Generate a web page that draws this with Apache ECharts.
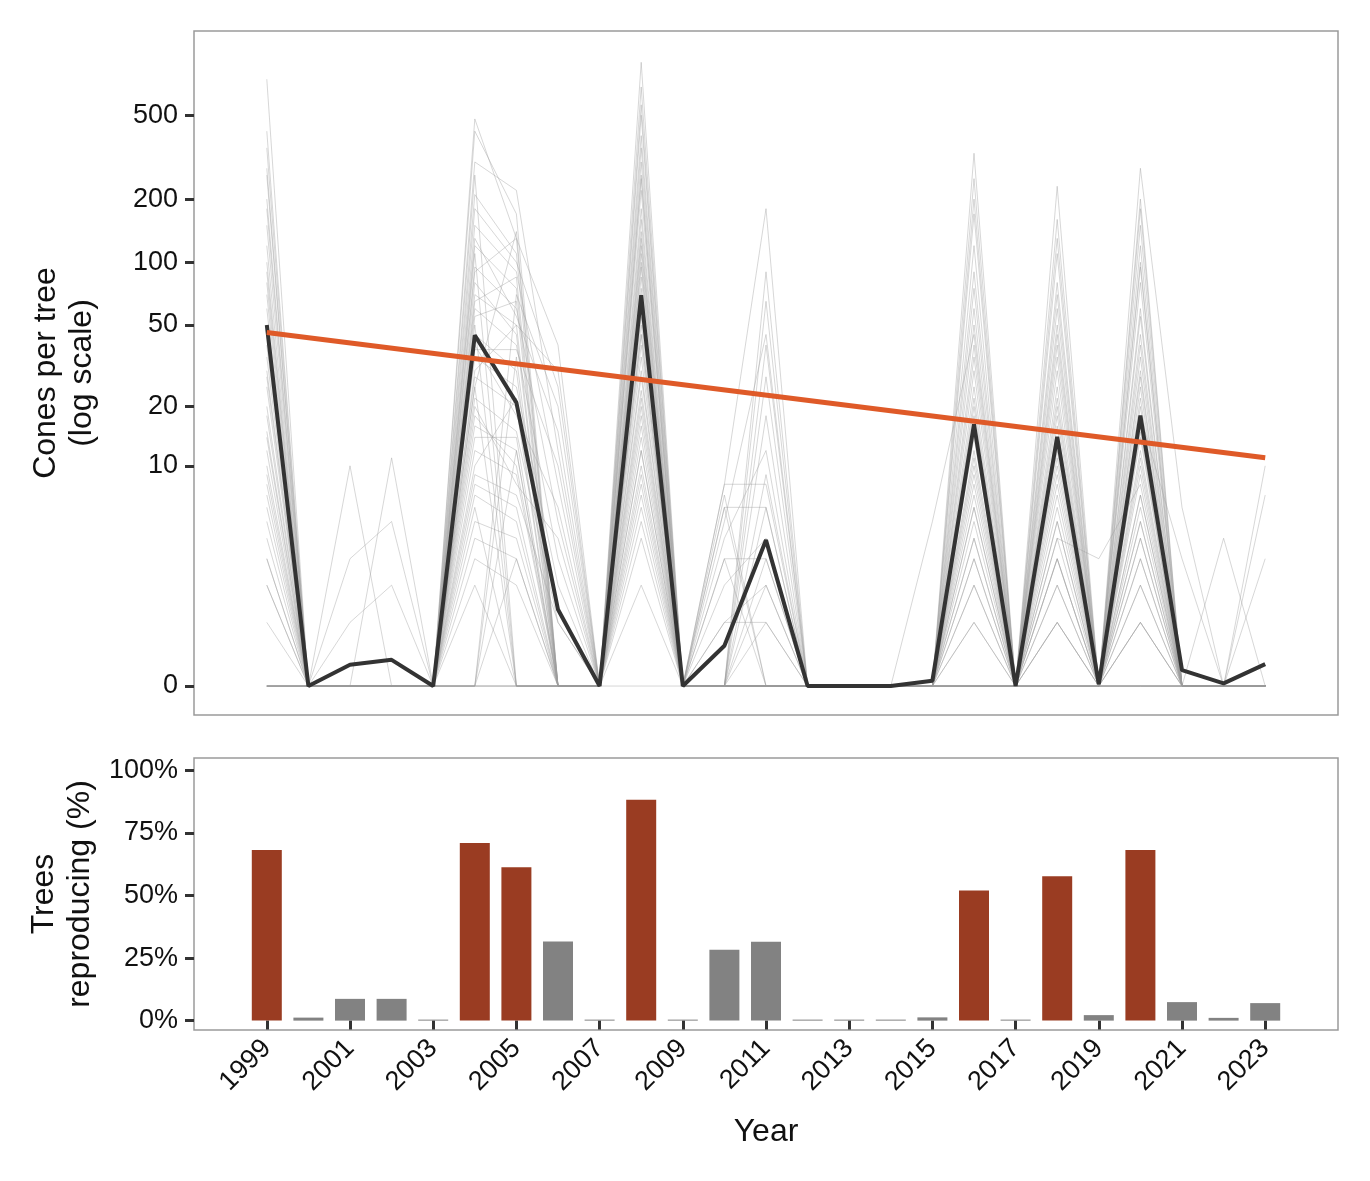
<!DOCTYPE html>
<html>
<head>
<meta charset="utf-8">
<script src="https://cdn.jsdelivr.net/npm/echarts@6/dist/echarts.min.js"></script>
<style>
html, body { margin: 0; padding: 0; background: #fff; }
#chart { width: 1370px; height: 1181px; }
</style>
</head>
<body>
<div id="chart"></div>
<script>
var years = [1999,2000,2001,2002,2003,2004,2005,2006,2007,2008,2009,2010,2011,2012,2013,2014,2015,2016,2017,2018,2019,2020,2021,2022,2023];
var yearTicks = [1999,2001,2003,2005,2007,2009,2011,2013,2015,2017,2019,2021,2023];
var coneTicks = [0,10,20,50,100,200,500];
var pctTicks = [0,25,50,75,100];

// mean cones per tree (black line)
var meanCones = [50,0,0.26,0.33,0,44.6,20.9,1.3,0,69.5,0,0.55,3.9,0,0,0,0.06,16.3,0,14.1,0.02,18,0.19,0.03,0.27];
// fitted trend (orange), start and end
var trendYears = [1999, 2023];
var trendCones = [46, 11];
// % of trees with cones
var pctReproducing = [68.2,1.2,8.7,8.7,0.4,71,61.3,31.6,0.4,88.3,0.4,28.3,31.5,0.4,0.4,0.4,1.3,52,0.4,57.7,2.2,68.2,7.4,1.1,7];

// individual trees (grey lines)
var trees = [
  [740,0,0,0,0,480,130,40,0,890,0,8,180,0,0,0,0,330,0,230,0,280,6,0,10],
  [420,0,0,0,0,300,220,12,0,560,0,0,65,0,0,0,0,170,0,110,0,150,0,0,0],
  [260,0,10,0,0,210,110,0,0,400,0,5,45,0,0,0,0,90,0,60,0,120,0,0,0],
  [180,0,0,11,0,150,90,8,0,300,0,0,28,0,0,0,0,60,0,45,0,80,0,0,7],
  [120,0,0,0,0,120,75,0,0,220,0,7,0,0,0,0,5,45,0,30,0,55,0,0,0],
  [90,0,0,0,0,95,60,5,0,160,0,0,18,0,0,0,0,30,0,25,0,40,0,4,0],
  [70,0,3,5,0,80,45,0,0,120,0,4,12,0,0,0,0,22,0,18,0,30,0,0,0],
  [50,0,0,0,0,60,40,3,0,95,0,0,9,0,0,0,0,15,0,14,0,22,0,0,0],
  [35,0,0,0,0,45,30,0,0,75,0,3,0,0,0,0,0,12,0,10,0,18,3,0,0],
  [25,0,0,0,0,35,25,2,0,55,0,0,6,0,0,0,0,9,0,8,0,14,0,0,0],
  [18,0,0,0,0,28,20,0,0,40,0,2,4,0,0,0,0,7,0,6,0,10,0,0,3],
  [12,0,0,0,0,22,15,1,0,30,0,0,3,0,0,0,0,5,0,4,3,8,0,0,0],
  [9,0,0,0,0,16,12,0,0,24,0,1,2,0,0,0,0,3,0,3,0,6,0,0,0],
  [6,0,0,0,0,12,9,0,0,18,0,0,1,0,0,0,0,2,0,2,0,4,0,0,0],
  [4,0,0,0,0,9,7,1,0,14,0,0,0,0,0,0,0,1,0,1,0,3,0,0,0],
  [3,0,0,0,0,7,5,0,0,10,0,0,0,0,0,0,0,0,0,1,0,2,0,0,0],
  [2,0,0,0,0,5,4,0,0,8,0,0,0,0,0,0,0,0,0,0,0,1,0,0,0],
  [1,0,0,0,0,4,3,0,0,6,0,0,0,0,0,0,0,0,0,0,0,1,0,0,0],
  [350,0,0,0,0,260,0,0,0,680,0,0,0,0,0,0,0,250,0,160,0,200,0,0,0],
  [150,0,0,0,0,0,70,20,0,260,0,6,0,0,0,0,0,75,0,50,0,95,0,0,0],
  [60,0,0,0,0,110,0,0,0,140,0,0,0,0,0,0,0,0,0,20,0,0,0,0,0],
  [0,0,0,0,0,70,50,30,0,110,0,0,0,0,0,0,0,40,0,0,0,35,0,0,0],
  [0,0,0,0,0,50,0,0,0,85,0,0,0,0,0,0,0,25,0,35,0,0,0,0,0],
  [30,0,0,0,0,0,35,0,0,65,0,0,0,0,0,0,0,0,0,12,0,25,0,0,0],
  [0,0,1,2,0,40,18,6,0,50,0,0,0,0,0,0,0,18,0,0,0,12,0,0,0],
  [15,0,0,0,0,25,0,0,0,35,0,0,0,0,0,0,0,0,0,9,0,0,0,0,0],
  [0,0,0,0,0,18,10,0,0,20,0,0,0,0,0,0,0,10,0,0,0,16,0,0,0],
  [7,0,0,0,0,0,0,0,0,12,0,0,0,0,0,0,0,0,0,5,0,7,0,0,0],
  [0,0,0,0,0,0,0,0,0,7,0,0,0,0,0,0,0,4,0,0,0,0,0,0,0],
  [5,0,0,0,0,3,2,0,0,4,0,0,0,0,0,0,0,0,0,0,0,5,0,0,0],
  [0,0,0,0,0,2,0,0,0,2,0,0,0,0,0,0,0,6,0,3,0,0,0,0,0],
  [0,0,0,0,0,0,0,0,0,0,0,0,0,0,0,0,0,0,0,0,0,0,0,0,0],
  [200,0,0,0,0,90,130,0,0,350,0,0,0,0,0,0,0,120,0,80,0,100,0,0,0],
  [100,0,0,0,0,180,100,25,0,250,0,0,40,0,0,0,0,50,0,70,0,60,0,0,0],
  [80,0,0,0,0,65,85,0,0,180,0,8,8,0,0,0,0,35,0,40,0,45,0,0,0],
  [45,0,0,0,0,130,55,15,0,130,0,0,0,0,0,0,0,20,0,22,0,28,0,0,0],
  [40,0,0,0,0,55,65,0,0,100,0,6,6,0,0,0,0,14,0,16,0,20,0,0,0],
  [28,0,0,0,0,38,38,10,0,70,0,0,0,0,0,0,0,11,0,13,0,15,0,0,0],
  [20,0,0,0,0,30,50,0,0,60,0,0,0,0,0,0,0,8,0,11,0,11,0,0,0],
  [14,0,0,0,0,20,8,4,0,45,0,3,3,0,0,0,0,6,0,7,0,9,0,0,0],
  [10,0,0,0,0,14,14,0,0,28,0,0,0,0,0,0,0,4,0,5,0,7,0,0,0],
  [8,0,0,0,0,10,22,0,0,22,0,0,2,0,0,0,0,3,0,4,0,5,0,0,0],
  [0,0,0,0,0,0,12,0,0,16,0,0,0,0,0,0,0,2,0,2,0,4,0,0,0],
  [3,0,0,0,0,6,0,0,0,12,0,1,1,0,0,0,0,1,0,0,0,3,0,0,0],
  [0,0,0,0,0,8,6,0,0,9,0,0,0,0,0,0,0,0,0,3,0,2,0,0,0],
  [2,0,0,0,0,0,3,0,0,5,0,0,0,0,0,0,0,0,0,1,0,1,0,0,0],
  [280,0,0,0,0,420,170,0,0,500,0,0,90,0,0,0,0,200,0,130,0,180,0,0,0],
  [0,0,0,0,0,25,140,0,0,45,0,0,0,0,0,0,0,0,0,0,0,0,0,0,0]
];

var FONT = 'Liberation Sans, Arial, sans-serif';

// log10(x + 1) so that zero stays on the axis
function lg(v) { return Math.log10(v + 1); }
function pairs(xs, ys) {
  return ys.map(function (v, i) { return [xs[i], lg(v)]; });
}

var series = [];
trees.forEach(function (t) {
  series.push({
    type: 'line', xAxisIndex: 0, yAxisIndex: 0,
    data: pairs(years, t),
    symbol: 'none', silent: true,
    lineStyle: { color: 'rgba(155,155,155,0.45)', width: 0.9 }
  });
});
series.push({
  type: 'line', xAxisIndex: 0, yAxisIndex: 0,
  data: pairs(years, meanCones),
  symbol: 'none',
  lineStyle: { color: '#333333', width: 4 }
});
series.push({
  type: 'line', xAxisIndex: 0, yAxisIndex: 0,
  data: pairs(trendYears, trendCones),
  symbol: 'none',
  lineStyle: { color: '#DF5A28', width: 5 }
});
series.push({
  type: 'bar', xAxisIndex: 1, yAxisIndex: 1,
  barWidth: 30,
  data: pctReproducing.map(function (v, i) {
    return {
      value: [years[i], v],
      itemStyle: { color: v >= 50 ? '#9A3C22' : '#828282' }
    };
  })
});

var tickStyle = { show: true, length: 9, lineStyle: { color: '#333', width: 3 } };

var option = {
  animation: false,
  backgroundColor: '#fff',
  textStyle: { fontFamily: FONT },
  grid: [
    { left: 194, top: 31, width: 1144, height: 684, show: true, borderColor: '#9a9a9a', borderWidth: 1.5, backgroundColor: '#fff' },
    { left: 194, top: 758, width: 1144, height: 272, show: true, borderColor: '#9a9a9a', borderWidth: 1.5, backgroundColor: '#fff' }
  ],
  xAxis: [
    {
      type: 'value', gridIndex: 0, min: 1997.25, max: 2024.75,
      axisLine: { show: false }, axisTick: { show: false },
      axisLabel: { show: false }, splitLine: { show: false }
    },
    {
      type: 'value', gridIndex: 1, min: 1997.25, max: 2024.75,
      axisLine: { show: false },
      axisTick: Object.assign({ customValues: yearTicks }, tickStyle),
      axisLabel: {
        customValues: yearTicks, rotate: 45, margin: 14,
        fontSize: 27, color: '#111', fontFamily: FONT,
        formatter: function (v) { return String(v); }
      },
      splitLine: { show: false },
      name: 'Year', nameLocation: 'middle', nameGap: 86,
      nameTextStyle: { fontSize: 32, color: '#111', fontFamily: FONT }
    }
  ],
  yAxis: [
    {
      type: 'value', gridIndex: 0, min: -0.137, max: 3.098,
      axisLine: { show: false },
      axisTick: Object.assign({ customValues: coneTicks.map(lg) }, tickStyle),
      axisLabel: {
        customValues: coneTicks.map(lg), margin: 16,
        fontSize: 27, color: '#111', fontFamily: FONT,
        formatter: function (v) { return String(Math.round(Math.pow(10, v) - 1)); }
      },
      splitLine: { show: false },
      name: 'Cones per tree\n(log scale)', nameLocation: 'middle', nameGap: 94,
      nameTextStyle: { fontSize: 32, color: '#111', fontFamily: FONT, lineHeight: 36 }
    },
    {
      type: 'value', gridIndex: 1, min: -3.75, max: 105,
      axisLine: { show: false },
      axisTick: Object.assign({ customValues: pctTicks }, tickStyle),
      axisLabel: {
        customValues: pctTicks, margin: 16,
        fontSize: 27, color: '#111', fontFamily: FONT,
        formatter: function (v) { return v + '%'; }
      },
      splitLine: { show: false },
      name: 'Trees\nreproducing (%)', nameLocation: 'middle', nameGap: 94,
      nameTextStyle: { fontSize: 32, color: '#111', fontFamily: FONT, lineHeight: 36 }
    }
  ],
  series: series
};

var chart = echarts.init(document.getElementById('chart'), null, { renderer: 'canvas' });
chart.setOption(option);
</script>
</body>
</html>
